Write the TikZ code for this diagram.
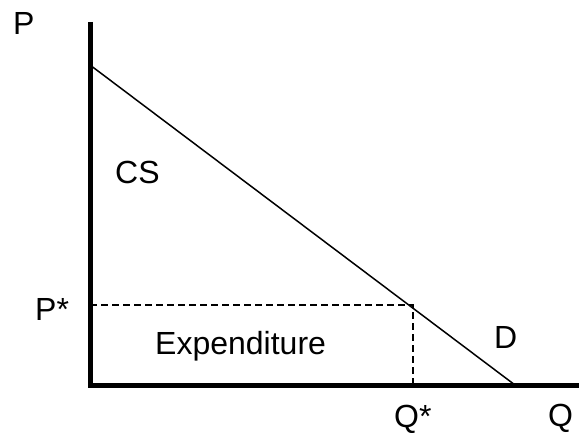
\documentclass[tikz,border=0pt]{standalone}
\usepackage{fontspec}
\setmainfont{Liberation Sans}
\begin{document}
\begin{tikzpicture}[x=1pt,y=-1pt,
  lbl/.style={anchor=base west,inner sep=0pt,text depth=0pt,font=\fontsize{32}{38}\selectfont},
  axis/.style={line width=5pt},
  demand/.style={line width=1.5pt},
  guide/.style={line width=1.3pt,dash pattern=on 7pt off 4pt}]
\useasboundingbox (0,0) rectangle (579,433);
\coordinate (top) at (90,22);
\coordinate (origin) at (90,385);
\coordinate (right) at (579,385);
\coordinate (dstart) at (90,65);
\coordinate (dend) at (515,385);
\coordinate (pstar) at (90,305);
\coordinate (eq) at (413,305);
\coordinate (qstar) at (413,385);
\draw[demand] (dstart) -- (dend);
\draw[guide] (pstar) -- (eq) -- (qstar);
\draw[axis] (top) -- (origin) -- (right);
\node[lbl] (P) at (13,35) {P};
\node[lbl] (CS) at (115,184) {CS};
\node[lbl] (Ps) at (35,320) {P*};
\node[lbl] (Exp) at (155,354) {Expenditure};
\node[lbl] (D) at (494,348) {D};
\node[lbl] (Qs) at (394,427) {Q*};
\node[lbl] (Q) at (548,426) {Q};
\end{tikzpicture}
\end{document}
